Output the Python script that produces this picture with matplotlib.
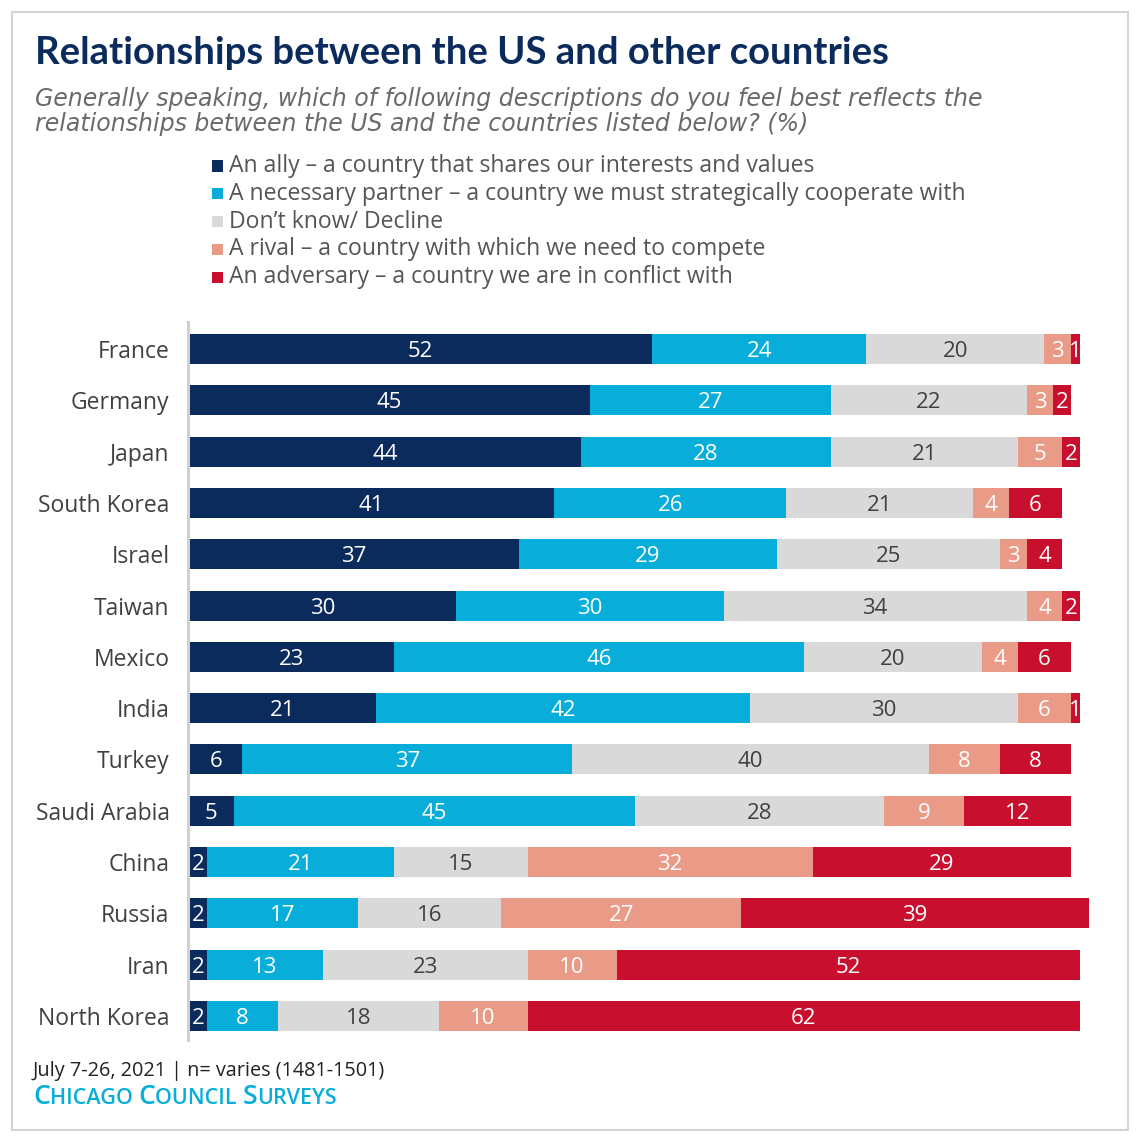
import numpy as np
import matplotlib.pyplot as plt
from matplotlib.patches import Rectangle

plt.rcParams['font.family'] = ['Open Sans', 'DejaVu Sans']

# Data (%)
countries = ['France', 'Germany', 'Japan', 'South Korea', 'Israel', 'Taiwan', 'Mexico',
             'India', 'Turkey', 'Saudi Arabia', 'China', 'Russia', 'Iran', 'North Korea']
ally = [52, 45, 44, 41, 37, 30, 23, 21, 6, 5, 2, 2, 2, 2]
partner = [24, 27, 28, 26, 29, 30, 46, 42, 37, 45, 21, 17, 13, 8]
dont_know = [20, 22, 21, 21, 25, 34, 20, 30, 40, 28, 15, 16, 23, 18]
rival = [3, 3, 5, 4, 3, 4, 4, 6, 8, 9, 32, 27, 10, 10]
adversary = [1, 2, 2, 6, 4, 2, 6, 1, 8, 12, 29, 39, 52, 62]

series_names = ['An ally \u2013 a country that shares our interests and values',
                'A necessary partner \u2013 a country we must strategically cooperate with',
                'Don\u2019t know/ Decline',
                'A rival \u2013 a country with which we need to compete',
                'An adversary \u2013 a country we are in conflict with']
series = [ally, partner, dont_know, rival, adversary]
colors = ['#0b2b5c', '#08aed9', '#d9d9d9', '#e99b88', '#c8102e']
text_colors = ['white', 'white', '#404040', 'white', 'white']

W, H = 1138, 1140
fig = plt.figure(figsize=(W / 100, H / 100), dpi=100)

# outer border
fig.add_artist(Rectangle((12 / W, 10 / H), 1116 / W, 1118 / H, transform=fig.transFigure,
                         fill=False, edgecolor='#d4d4d4', linewidth=1.5))

# titles
fig.text(35 / W, 1 - 53 / H, 'Relationships between the US and other countries',
         fontsize=27.5, fontweight='bold', color='#0b2b5c', va='center', ha='left',
         family=['Lato', 'DejaVu Sans'])
sub_lines = ['Generally speaking, which of following descriptions do you feel best reflects the',
             'relationships between the US and the countries listed below? (%)']
for k, line in enumerate(sub_lines):
    fig.text(35 / W, 1 - (99 + 25 * k) / H, line, fontsize=17, style='italic',
             color='#6a6a6a', va='center', ha='left', family=['DejaVu Sans'])

# legend
for i, (name, c) in enumerate(zip(series_names, colors)):
    y = 1 - (166 + i * 27.8) / H
    fig.add_artist(Rectangle((212 / W, y - 5.5 / H), 11 / W, 11 / H, transform=fig.transFigure,
                             facecolor=c, edgecolor='none'))
    fig.text(229 / W, y, name, fontsize=16.6, color='#555555', va='center', ha='left')

# bars
ax = fig.add_axes([189 / W, 1 - 1040 / H, 900 / W, 718 / H])
for s in ['top', 'right', 'bottom']:
    ax.spines[s].set_visible(False)
ax.spines['left'].set_position(('outward', 1))
ax.spines['left'].set_color('#d0d0d0')
ax.spines['left'].set_linewidth(2.2)

y = np.arange(len(countries))
left = np.zeros(len(countries))
for vals, c, tc in zip(series, colors, text_colors):
    vals = np.array(vals)
    ax.barh(y, vals, left=left, height=0.585, color=c, edgecolor='none')
    for yi, l, v in zip(y, left, vals):
        ax.text(l + v / 2, yi, str(v), ha='center', va='center_baseline', color=tc, fontsize=16)
    left = left + vals

ax.set_xlim(0, 101)
ax.set_ylim(13.47, -0.53)
ax.set_yticks(y)
ax.set_yticklabels(countries, fontsize=16.5, color='#404040')
ax.tick_params(axis='y', length=0, pad=13)
ax.set_xticks([])

# footer
fig.text(33 / W, 1 - 1071 / H, 'July 7-26, 2021 | n= varies (1481-1501)',
         fontsize=14.3, color='#222222', va='center', ha='left')

# small caps source line
base_y = 1 - 1104 / H
parts = [('C', 19.2), ('HICAGO ', 15.5), ('C', 19.2), ('OUNCIL ', 15.5), ('S', 19.2), ('URVEYS', 15.5)]
prev = None
for piece, size in parts:
    if prev is None:
        prev = fig.text(33 / W, base_y, piece, fontsize=size, color='#08aed9',
                        va='baseline', ha='left', fontweight='semibold')
    else:
        prev = plt.annotate(piece, xy=(1, base_y), xycoords=(prev, 'figure fraction'),
                            fontsize=size, color='#08aed9', va='baseline', ha='left',
                            fontweight='semibold', annotation_clip=False)

fig.savefig('out.png', dpi=100)
